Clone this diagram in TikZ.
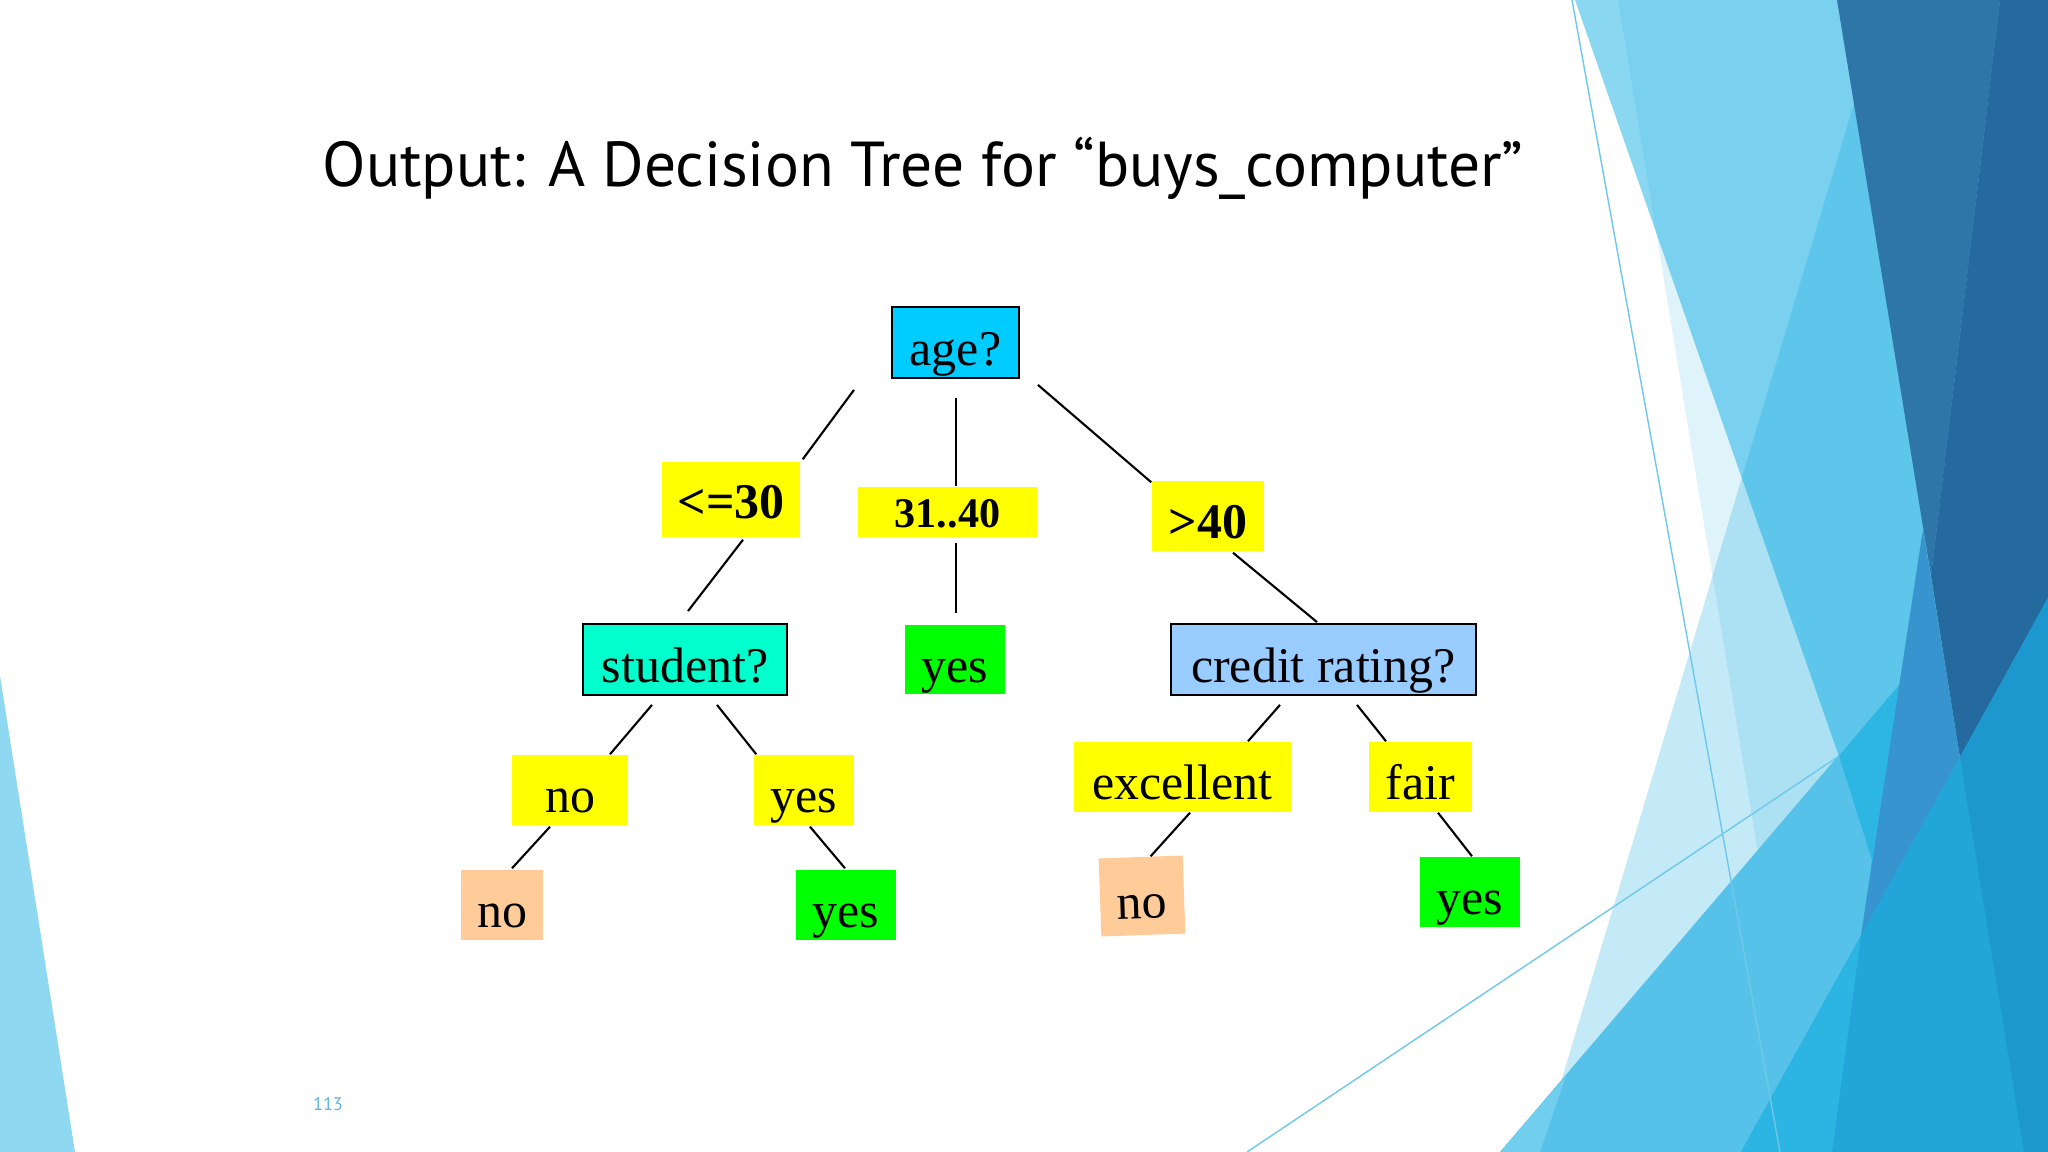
\documentclass[tikz,border=0pt]{standalone}
\usepackage{fontspec}
\setmainfont{Liberation Serif}
\newfontfamily\titlefont{PT Sans}
\usepackage{tikz}
\usetikzlibrary{calc}
\definecolor{agecyan}{RGB}{0, 204, 255}
\definecolor{branchyellow}{RGB}{255, 255, 0}
\definecolor{leafgreen}{RGB}{0, 255, 0}
\definecolor{studentteal}{RGB}{0, 255, 204}
\definecolor{creditblue}{RGB}{153, 204, 255}
\definecolor{peach}{RGB}{255, 204, 153}
\definecolor{pagenum}{RGB}{91, 181, 229}
\definecolor{facetA}{RGB}{138, 215, 242}
\definecolor{facetB}{RGB}{9, 166, 221}
\definecolor{darkA}{RGB}{46, 118, 167}
\definecolor{darkB}{RGB}{37, 106, 158}
\definecolor{facetC}{RGB}{86, 194, 234}
\definecolor{facetCl}{RGB}{114, 206, 238}
\definecolor{facetD}{RGB}{46, 182, 227}
\definecolor{wedge}{RGB}{55, 148, 206}
\definecolor{facetBR}{RGB}{34, 166, 218}
\definecolor{facetBRl}{RGB}{44, 181, 227}
\definecolor{facetBRr}{RGB}{29, 152, 206}
\definecolor{facetline}{RGB}{110, 200, 235}
\definecolor{leftblue}{RGB}{142, 216, 241}
\newcommand{\treefont}{\fontsize{14.2}{17}\selectfont}

\begin{document}
\begin{tikzpicture}[x=0.01cm, y=-0.01cm,
  box/.style={rectangle, inner sep=0pt, text height=0.45cm, text depth=0pt, font=\treefont},
  test/.style={box, draw=black, line width=0.5pt},
  cut/.style={box, fill=branchyellow, font=\treefont\bfseries},
  answer/.style={box, fill=branchyellow},
  yesleaf/.style={box, fill=leafgreen, minimum width=1cm, minimum height=0.7cm},
  noleaf/.style={box, fill=peach, minimum height=0.7cm},
  edge/.style={line width=0.6pt}]
  \useasboundingbox (0,0) rectangle (2048,1152);
  \fill[white] (0,0) rectangle (2048,1152);

  % Left accent
  \fill[leftblue] (0,676) -- (75,1152) -- (0,1152) -- cycle;

  % Right facets
  \fill[facetA] (1575,0) -- (2048,0) -- (2048,1152) -- (1977,1152) -- cycle;
  \fill[facetB, opacity=0.236] (1885,0) -- (2048,0) -- (2048,1152) -- (1540,1152) -- cycle;
  \fill[facetB, opacity=0.13] (1618,0) -- (2048,0) -- (2048,1152) -- (1807,1152) -- cycle;
  \fill[darkA] (1837,0) -- (2000,0) -- (1931,576) -- cycle;
  \fill[darkB] (2000,0) -- (2048,0) -- (2048,598) -- (1960,758) -- (1931,576) -- cycle;
  \fill[facetC] (1500,1152) -- (1937,640) -- (1960,758) -- (1741,1152) -- cycle;
  \fill[facetCl] (1500,1152) -- (1566,1076) -- (1540,1152) -- cycle;
  \fill[facetD] (1839,756) -- (1905,678) -- (1861,936) -- (1872,860) -- cycle;
  \fill[wedge] (1923,529) -- (1960,758) -- (1861,936) -- cycle;
  \fill[facetBR] (2048,598) -- (2048,1152) -- (1741,1152) -- cycle;
  \fill[facetBRl] (1861,936) -- (1832,1152) -- (1741,1152) -- cycle;
  \fill[facetBRr] (1960,758) -- (2048,598) -- (2048,1152) -- (2024,1152) -- cycle;
  \draw[facetline, line width=0.4pt] (1572,0) -- (1780,1152);
  \draw[facetline, line width=0.4pt] (1247,1152) -- (1839,756);

  % Title and page number
  \node[anchor=base west, inner sep=0pt, font=\titlefont\fontsize{18.05}{21}\selectfont] (title) at (322,187) {Output: A Decision Tree for “buys\_computer”};
  \node[inner sep=0pt, font=\titlefont\fontsize{5.2}{6}\selectfont, text=pagenum] (page) at (328,1104) {113};

  % Root and age ranges
  \node[test, fill=agecyan, minimum width=1.27cm, minimum height=0.71cm] (age) at (955.5,342.5) {age?};
  \node[cut, minimum width=1.38cm, minimum height=0.75cm, text height=0.37cm] (le30) at (731,499.5) {<=30};
  \node[cut, minimum width=1.79cm, minimum height=0.50cm, text height=0.30cm, font=\fontsize{12}{14}\selectfont\bfseries] (mid) at (947.5,512) {31..40};
  \node[cut, minimum width=1.12cm, minimum height=0.70cm] (gt40) at (1208,516) {>40};

  % Second level
  \node[test, fill=studentteal, minimum width=2.04cm, minimum height=0.71cm] (student) at (685,659.5) {student?};
  \node[yesleaf, minimum height=0.69cm] (yesmid) at (955,659.5) {yes};
  \node[test, fill=creditblue, minimum width=3.05cm, minimum height=0.71cm] (credit) at (1323.5,659.5) {credit rating?};

  % Attribute values
  \node[answer, minimum width=1.16cm, minimum height=0.70cm] (stuno) at (570,790) {no};
  \node[answer, minimum width=1.00cm, minimum height=0.70cm] (stuyes) at (804,790) {yes};
  \node[answer, minimum width=2.17cm, minimum height=0.70cm] (excel) at (1182.5,777) {excellent};
  \node[answer, minimum width=1.03cm, minimum height=0.70cm] (fair) at (1420.5,777) {fair};

  % Leaves
  \node[noleaf, minimum width=0.82cm] (leafno) at (502,905) {no};
  \node[yesleaf] (leafyes) at (846,905) {yes};
  \node[noleaf, minimum width=0.84cm, minimum height=0.78cm, rotate=2] (crno) at (1142,896) {no};
  \node[yesleaf] (cryes) at (1470,892) {yes};

  % Branches
  \draw[edge] ([shift={(-101.5,11)}]age.south) -- ([shift={(2,-2)}]le30.north east);
  \draw[edge] ([shift={(0.5,19)}]age.south) -- ([shift={(8.5,0)}]mid.north);
  \draw[edge] ([shift={(8.5,5)}]mid.south) -- ([shift={(1,-11)}]yesmid.north);
  \draw[edge] ([shift={(18,6)}]age.south east) -- ([shift={(0,2)}]gt40.north west);
  \draw[edge] ([shift={(25,1)}]gt40.south) -- ([shift={(-6.5,-1)}]credit.north);
  \draw[edge] ([shift={(12,2)}]le30.south) -- ([shift={(3,-12)}]student.north);
  \draw[edge] ([shift={(-33,9)}]student.south) -- ([shift={(40,0)}]stuno.north);
  \draw[edge] ([shift={(32,9)}]student.south) -- ([shift={(3,0)}]stuyes.north west);
  \draw[edge] ([shift={(-20,1)}]stuno.south) -- ([shift={(10,-1)}]leafno.north);
  \draw[edge] ([shift={(6,1)}]stuyes.south) -- ([shift={(-1,-1)}]leafyes.north);
  \draw[edge] ([shift={(-43.5,9)}]credit.south) -- ([shift={(65.5,0)}]excel.north);
  \draw[edge] ([shift={(33.5,9)}]credit.south) -- ([shift={(-34.5,0)}]fair.north);
  \draw[edge] ([shift={(7.5,0)}]excel.south) -- ([shift={(10,0)}]crno.north);
  \draw[edge] ([shift={(17.5,0)}]fair.south) -- ([shift={(2,0)}]cryes.north);
\end{tikzpicture}
\end{document}
